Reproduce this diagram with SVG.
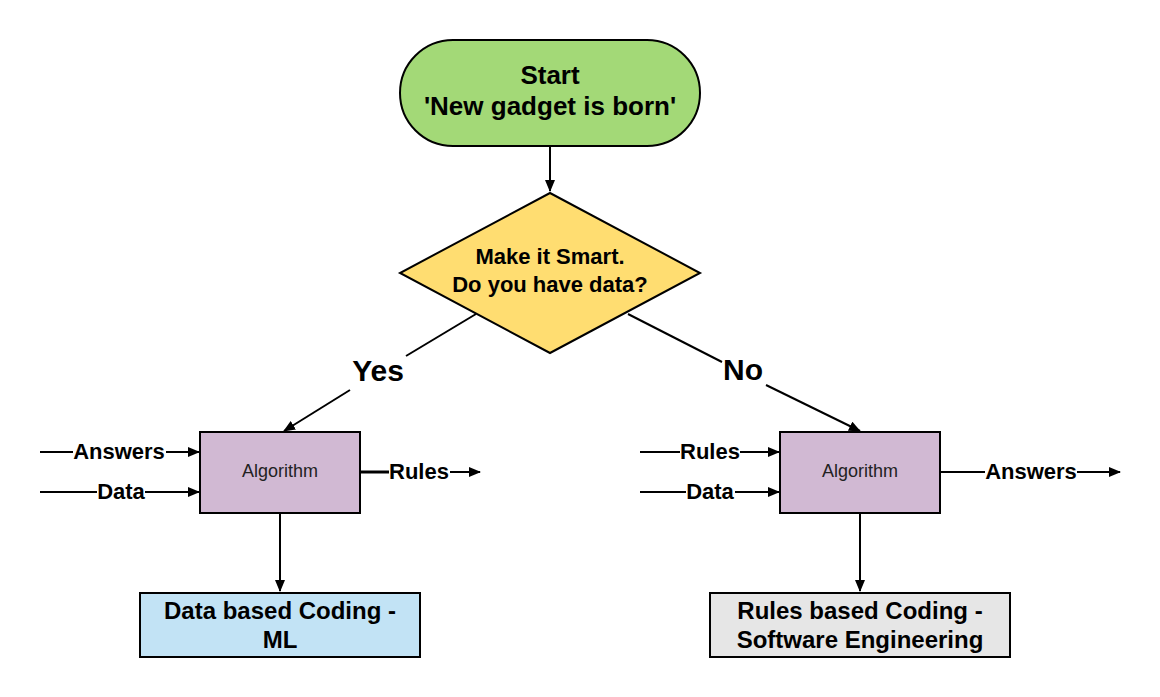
<svg xmlns="http://www.w3.org/2000/svg" width="1160" height="697" viewBox="0 0 1160 697">
<style>
.node{stroke:#000;stroke-width:2}
.t{font-family:"Liberation Sans",Arial,sans-serif;font-weight:bold;fill:#000;text-anchor:middle}
.t26{font-size:26px}
.t22{font-size:22px}
.t24{font-size:24px}
.t30{font-size:30px}
.alg{font-family:"Liberation Sans",Arial,sans-serif;font-size:18px;fill:#222;text-anchor:middle}
.c{stroke:#000;stroke-width:2;fill:none}
</style>
<defs>
<marker id="ah" markerWidth="12" markerHeight="10" refX="11" refY="5" orient="auto" markerUnits="userSpaceOnUse">
<path d="M0,0 L12,5 L0,10 Z" fill="#000"/>
</marker>
</defs>
<rect width="1160" height="697" fill="#fff"/>
<g id="start">
<rect class="node" x="400" y="40" width="300" height="106" rx="53" ry="53" fill="#a3d977"/>
<text class="t t26" x="550" y="84">Start</text>
<text class="t t26" x="550" y="115">'New gadget is born'</text>
</g>
<g id="decision">
<polygon class="node" points="550,193 700,273 550,353 400,273" fill="#ffdd71"/>
<text class="t t22" x="550" y="264">Make it Smart.</text>
<text class="t t22" x="550" y="292">Do you have data?</text>
</g>
<g id="alg-left">
<rect class="node" x="200" y="432" width="160" height="81" fill="#d1b9d3"/>
<text class="alg" x="280" y="477">Algorithm</text>
</g>
<g id="alg-right">
<rect class="node" x="780" y="432" width="160" height="81" fill="#d1b9d3"/>
<text class="alg" x="860" y="477">Algorithm</text>
</g>
<g id="ml">
<rect class="node" x="140" y="593" width="280" height="64" fill="#c2e3f5"/>
<text class="t t24" x="280" y="619">Data based Coding -</text>
<text class="t t24" x="280" y="648">ML</text>
</g>
<g id="se">
<rect class="node" x="710" y="593" width="300" height="64" fill="#e6e6e6"/>
<text class="t t24" x="860" y="619">Rules based Coding -</text>
<text class="t t24" x="860" y="648">Software Engineering</text>
</g>
<g id="connectors">
<line class="c" x1="550" y1="146" x2="550" y2="191" marker-end="url(#ah)"/>
<line class="c" x1="476" y1="314" x2="406" y2="356"/>
<line class="c" x1="350" y1="390" x2="284" y2="431" marker-end="url(#ah)"/>
<line class="c" x1="628" y1="314" x2="722" y2="362"/>
<line class="c" x1="766" y1="385" x2="860" y2="431" marker-end="url(#ah)"/>
<line class="c" x1="280" y1="513" x2="280" y2="591" marker-end="url(#ah)"/>
<line class="c" x1="860" y1="513" x2="860" y2="591" marker-end="url(#ah)"/>
<line class="c" x1="40" y1="452" x2="73" y2="452"/>
<line class="c" x1="166" y1="452" x2="199" y2="452" marker-end="url(#ah)"/>
<line class="c" x1="40" y1="492" x2="97" y2="492"/>
<line class="c" x1="145" y1="492" x2="199" y2="492" marker-end="url(#ah)"/>
<line class="c" x1="360" y1="472" x2="389" y2="472" style="stroke-width:3"/>
<line class="c" x1="450" y1="472" x2="480" y2="472" marker-end="url(#ah)"/>
<line class="c" x1="640" y1="452" x2="680" y2="452"/>
<line class="c" x1="740" y1="452" x2="779" y2="452" marker-end="url(#ah)"/>
<line class="c" x1="640" y1="492" x2="686" y2="492"/>
<line class="c" x1="735" y1="492" x2="779" y2="492" marker-end="url(#ah)"/>
<line class="c" x1="940" y1="472" x2="985" y2="472"/>
<line class="c" x1="1077" y1="472" x2="1120" y2="472" marker-end="url(#ah)"/>
<text class="t t30" x="378" y="381">Yes</text>
<text class="t t30" x="743" y="380">No</text>
<text class="t t22" x="119" y="459">Answers</text>
<text class="t t22" x="121" y="499">Data</text>
<text class="t t22" x="419" y="479">Rules</text>
<text class="t t22" x="710" y="459">Rules</text>
<text class="t t22" x="710" y="499">Data</text>
<text class="t t22" x="1031" y="479">Answers</text>
</g>
</svg>
